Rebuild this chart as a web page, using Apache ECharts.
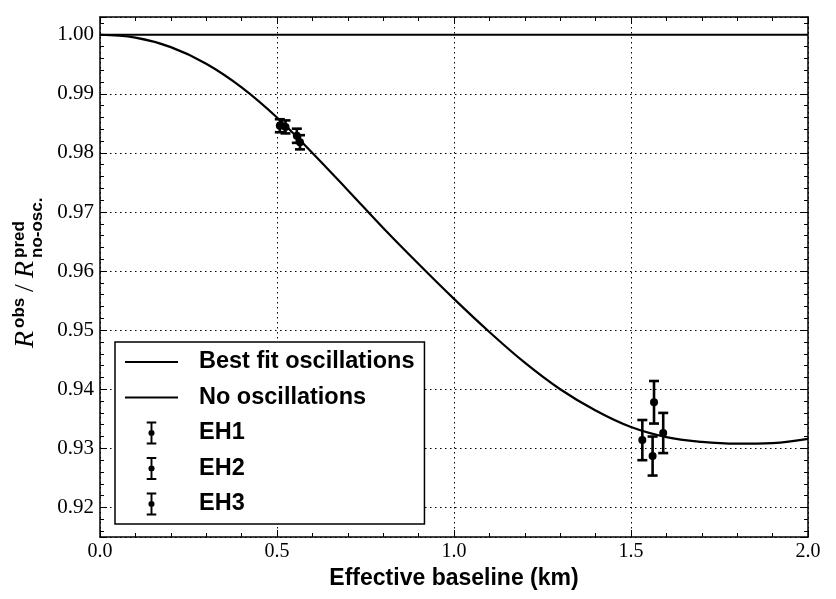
<!DOCTYPE html>
<html>
<head>
<meta charset="utf-8">
<script src="https://cdn.jsdelivr.net/npm/echarts@6/dist/echarts.min.js"></script>
<style>
  html, body { margin: 0; padding: 0; background: #fff; }
  #chart { width: 836px; height: 599px; }
</style>
</head>
<body>
<div id="chart"></div>
<script>
// best fit curve
const fitL = [0, 0.1, 0.2, 0.3, 0.4, 0.5, 0.6, 0.7, 0.8, 0.9, 1.0, 1.1, 1.2, 1.3, 1.4, 1.5, 1.6, 1.7, 1.8, 1.9, 2.0];
const fitR = [1.0, 0.9995, 0.9979, 0.9951, 0.9911, 0.986, 0.98, 0.9737, 0.9673, 0.9612, 0.9553, 0.9497, 0.9445, 0.94, 0.9364, 0.9336, 0.9319, 0.9311, 0.9308, 0.9309, 0.9316];
const noOscL = [0, 2.0];
const noOscR = [1.0, 1.0];

// experimental halls: baseline, ratio, error
const eh1L = [0.508, 0.524];
const eh1R = [0.9846, 0.9844];
const eh1E = [0.0011, 0.0011];
const eh2L = [0.556, 0.565];
const eh2R = [0.9829, 0.9818];
const eh2E = [0.0012, 0.0012];
const eh3L = [1.532, 1.561, 1.565, 1.591];
const eh3R = [0.9314, 0.9287, 0.9378, 0.9326];
const eh3E = [0.0034, 0.0033, 0.0036, 0.0034];

const BLACK = "#000";
const SERIF = "'Liberation Serif', 'DejaVu Serif', serif";
const SANS = "'Liberation Sans', 'DejaVu Sans', sans-serif";
const ERR_ICON = "path://M0,0H10V2H6V22H10V24H0V22H4V2H0Z M1.8,12A3.2,3.2 0 1,1 8.2,12A3.2,3.2 0 1,1 1.8,12Z";
const LINE_ICON = "path://M0,0H53V2.2H0Z";

const zip = (xs, ys, es) => xs.map((x, i) => (es ? [x, ys[i], es[i]] : [x, ys[i]]));

function renderErr(params, api) {
  const x = api.value(0), y = api.value(1), e = api.value(2);
  const c = api.coord([x, y]);
  const hi = api.coord([x, y + e]);
  const lo = api.coord([x, y - e]);
  const cap = 5;
  const line = { stroke: BLACK, lineWidth: 2.6 };
  return {
    type: "group",
    children: [
      { type: "line", shape: { x1: c[0], y1: hi[1], x2: c[0], y2: lo[1] }, style: line },
      { type: "line", shape: { x1: c[0] - cap, y1: hi[1], x2: c[0] + cap, y2: hi[1] }, style: line },
      { type: "line", shape: { x1: c[0] - cap, y1: lo[1], x2: c[0] + cap, y2: lo[1] }, style: line },
      { type: "circle", shape: { cx: c[0], cy: c[1], r: 4 }, style: { fill: BLACK } },
    ],
  };
}

function errSeries(name, xs, ys, es) {
  return {
    name: name,
    type: "custom",
    renderItem: renderErr,
    itemStyle: { color: BLACK },
    encode: { x: 0, y: 1 },
    data: zip(xs, ys, es),
    z: 5,
  };
}

const gridLine = { show: true, lineStyle: { color: BLACK, type: [1.5, 3.5], width: 1 } };

function xAxisOf(pos, showLabel) {
  return {
    type: "value",
    position: pos,
    min: 0,
    max: 2,
    interval: 0.5,
    axisLine: { show: true, onZero: false, lineStyle: { color: BLACK, width: 1.5 } },
    axisTick: { show: true, inside: true, length: 7, lineStyle: { color: BLACK, width: 1 } },
    minorTick: { show: true, splitNumber: 5, length: 4, lineStyle: { color: BLACK } },
    axisLabel: {
      show: showLabel,
      color: BLACK,
      fontFamily: SERIF,
      fontSize: 20,
      margin: 5,
      formatter: (v) => v.toFixed(1),
    },
    splitLine: showLabel ? gridLine : { show: false },
    name: showLabel ? "Effective baseline (km)" : "",
    nameLocation: "middle",
    nameGap: 29,
    nameTextStyle: { color: BLACK, fontFamily: SANS, fontWeight: "bold", fontSize: 23 },
  };
}

function yAxisOf(pos, showLabel) {
  return {
    type: "value",
    position: pos,
    min: 0.915,
    max: 1.003,
    splitNumber: 9,
    axisLine: { show: true, onZero: false, lineStyle: { color: BLACK, width: 1.5 } },
    axisTick: { show: true, inside: true, length: 7, lineStyle: { color: BLACK, width: 1 } },
    minorTick: { show: true, splitNumber: 5, length: 4, lineStyle: { color: BLACK } },
    axisLabel: {
      show: showLabel,
      showMinLabel: false,
      showMaxLabel: false,
      color: BLACK,
      fontFamily: SERIF,
      fontSize: 21,
      margin: 6,
      formatter: (v) => v.toFixed(2),
    },
    splitLine: showLabel ? gridLine : { show: false },
  };
}

const chart = echarts.init(document.getElementById("chart"));
chart.setOption({
  animation: false,
  backgroundColor: "#fff",
  grid: { left: 100, right: 28, top: 17, bottom: 62 },
  xAxis: [xAxisOf("bottom", true), xAxisOf("top", false)],
  yAxis: [yAxisOf("left", true), yAxisOf("right", false)],
  legend: {
    orient: "vertical",
    left: 115,
    top: 342,
    padding: [8, 10, 8, 10],
    itemWidth: 53,
    itemHeight: 23,
    itemGap: 11.5,
    borderColor: BLACK,
    borderWidth: 1.5,
    borderRadius: 0,
    backgroundColor: "#fff",
    textStyle: { color: BLACK, fontFamily: SANS, fontWeight: "bold", fontSize: 23.5, padding: [0, 0, 0, 16] },
    data: [
      { name: "Best fit oscillations", icon: LINE_ICON },
      { name: "No oscillations", icon: LINE_ICON },
      { name: "EH1", icon: ERR_ICON },
      { name: "EH2", icon: ERR_ICON },
      { name: "EH3", icon: ERR_ICON },
    ],
  },
  graphic: [
    {
      type: "group",
      x: 40,
      y: 348,
      rotation: Math.PI / 2,
      children: [
        { type: "text", x: 0, y: 0, style: { text: "R", font: "italic 28px " + SERIF, fill: BLACK, verticalAlign: "bottom" } },
        { type: "text", x: 20, y: -12, style: { text: "obs", font: "bold 17px " + SANS, fill: BLACK, verticalAlign: "bottom" } },
        { type: "text", x: 56, y: 0, style: { text: "/", font: "28px " + SERIF, fill: BLACK, verticalAlign: "bottom" } },
        { type: "text", x: 70, y: 0, style: { text: "R", font: "italic 28px " + SERIF, fill: BLACK, verticalAlign: "bottom" } },
        { type: "text", x: 90, y: -12, style: { text: "pred", font: "bold 17px " + SANS, fill: BLACK, verticalAlign: "bottom" } },
        { type: "text", x: 90, y: 6, style: { text: "no-osc.", font: "bold 17px " + SANS, fill: BLACK, verticalAlign: "bottom" } },
      ],
    },
  ],
  series: [
    {
      name: "Best fit oscillations",
      type: "line",
      smooth: 0.4,
      symbol: "none",
      lineStyle: { color: BLACK, width: 2.2 },
      itemStyle: { color: BLACK },
      data: zip(fitL, fitR),
      z: 3,
    },
    {
      name: "No oscillations",
      type: "line",
      symbol: "none",
      lineStyle: { color: BLACK, width: 2.2 },
      itemStyle: { color: BLACK },
      data: zip(noOscL, noOscR),
      z: 3,
    },
    errSeries("EH1", eh1L, eh1R, eh1E),
    errSeries("EH2", eh2L, eh2R, eh2E),
    errSeries("EH3", eh3L, eh3R, eh3E),
  ],
});
</script>
</body>
</html>
